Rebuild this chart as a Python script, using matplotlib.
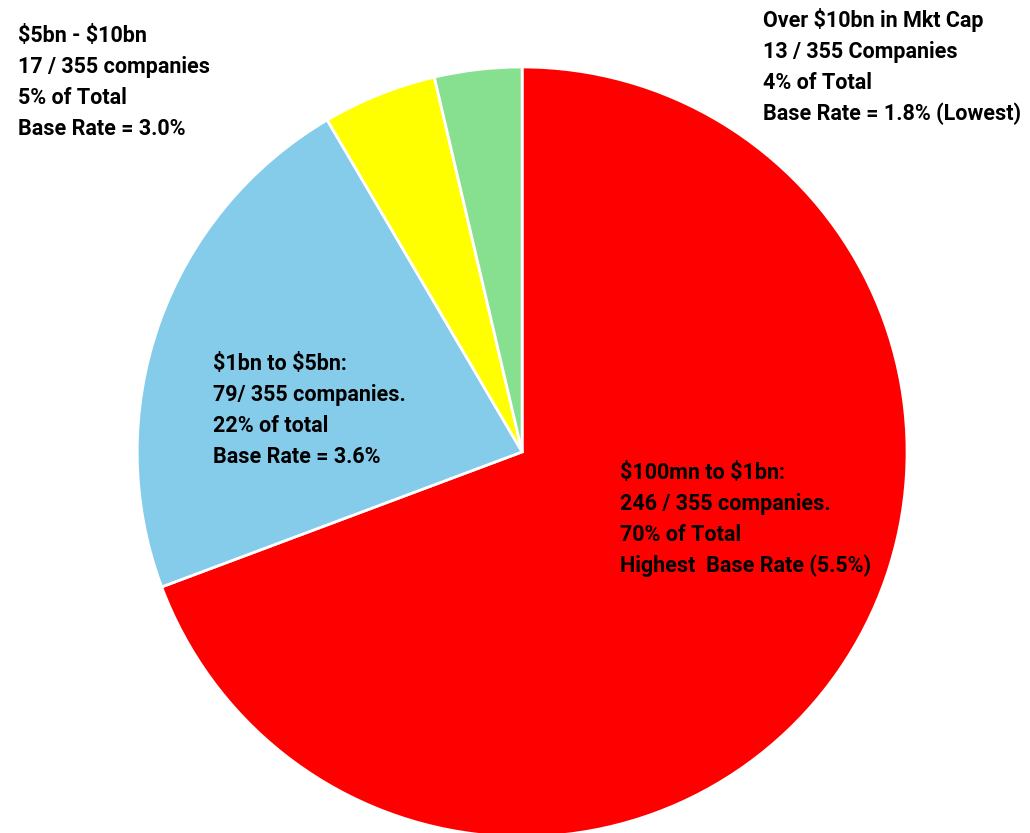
import matplotlib.pyplot as plt

# market cap buckets (companies out of 355)
labels = ["$100mn to $1bn", "$1bn to $5bn", "$5bn - $10bn", "Over $10bn"]
counts = [246, 79, 17, 13]
colors = ["#FF0000", "#85CBEA", "#FFFF00", "#86E090"]

notes = [
    "$100mn to $1bn:\n246 / 355 companies.\n70% of Total\nHighest  Base Rate (5.5%)",
    "$1bn to $5bn:\n79/ 355 companies.\n22% of total\nBase Rate = 3.6%",
    "$5bn - $10bn\n17 / 355 companies\n5% of Total\nBase Rate = 3.0%",
    "Over $10bn in Mkt Cap\n13 / 355 Companies\n4% of Total\nBase Rate = 1.8% (Lowest)",
]

plt.rcParams["font.family"] = ["Roboto", "DejaVu Sans"]

fig = plt.figure(figsize=(10.30, 8.33), dpi=100)
ax = fig.add_axes([0, 0, 1, 1])
ax.pie(counts, colors=colors, startangle=90, counterclock=False,
       radius=1, wedgeprops=dict(edgecolor="white", linewidth=2))
ax.set_xlim(-1.356, 1.319)
ax.set_ylim(-0.99, 1.174)
ax.set_aspect("equal")
ax.axis("off")

# text blocks placed in figure fractions
txt = dict(fontsize=15.5, fontweight="bold", va="top", ha="left",
           linespacing=1.52, parse_math=False)
fig.text(620 / 1030, 1 - 462 / 833, notes[0], **txt)
fig.text(213 / 1030, 1 - 353 / 833, notes[1], **txt)
fig.text(18 / 1030, 1 - 25 / 833, notes[2], **txt)
fig.text(763 / 1030, 1 - 8 / 833, notes[3], **txt)

fig.savefig("out.png", dpi=100)
